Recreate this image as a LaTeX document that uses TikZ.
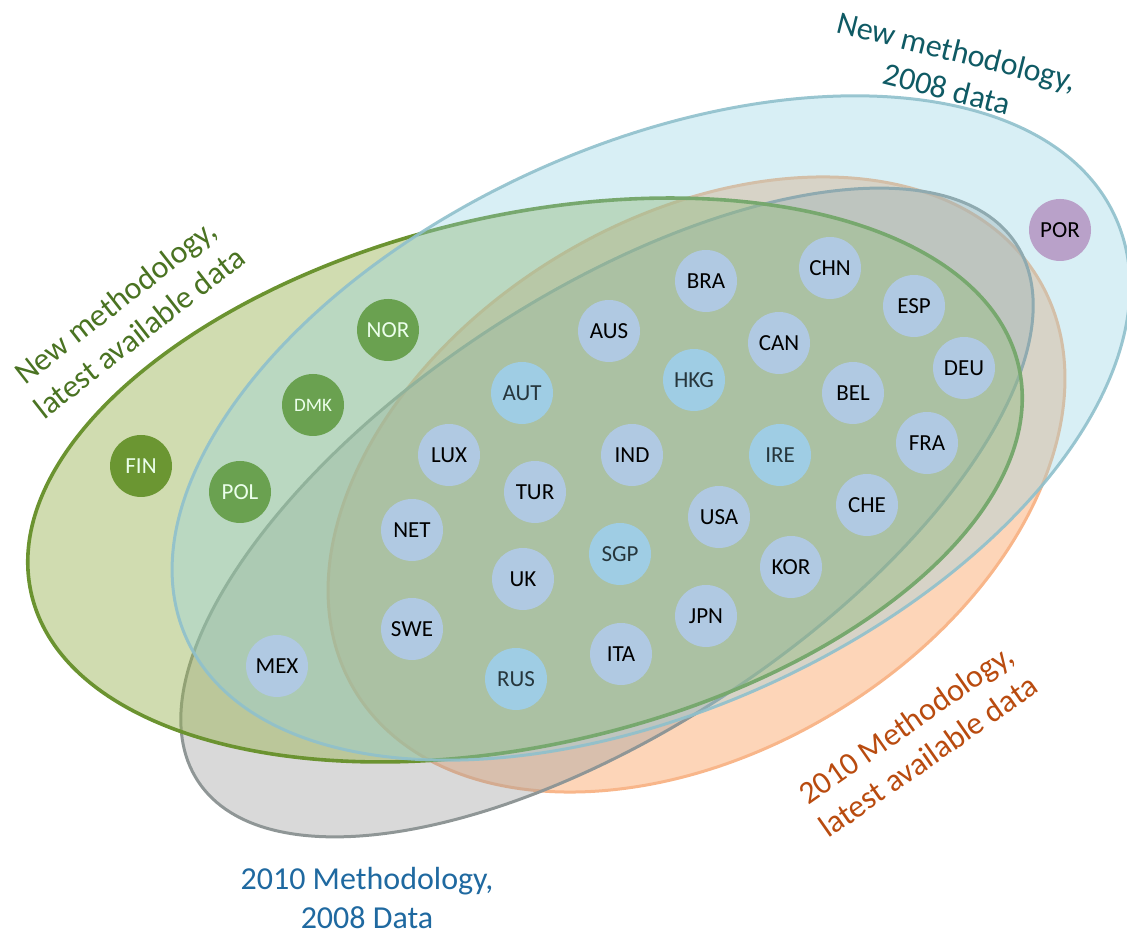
\documentclass[tikz,border=0pt]{standalone}
\usepackage{fontspec}
\setmainfont{Carlito}
\definecolor{orangefill}{HTML}{F98734}
\definecolor{grayfill}{HTML}{9B9B9B}
\definecolor{greenfill}{HTML}{97B14F}
\definecolor{bluefill}{HTML}{90D1E2}
\definecolor{orangeline}{HTML}{F8B68A}
\definecolor{grayline}{HTML}{8F9696}
\definecolor{greenline}{HTML}{6B9330}
\definecolor{blueline}{HTML}{8FC0CC}
\definecolor{ctryblue}{HTML}{B0C9E2}
\definecolor{ctrycyan}{HTML}{9FCDE4}
\definecolor{ctrytext}{HTML}{26363C}
\definecolor{ctrygreen}{HTML}{6AA150}
\definecolor{ctryfin}{HTML}{6B9632}
\definecolor{ctrypor}{HTML}{B9A1C9}
\definecolor{lblgreen}{HTML}{4A7322}
\definecolor{lblteal}{HTML}{0F5A64}
\definecolor{lblblue}{HTML}{1F69A0}
\definecolor{lblorange}{HTML}{B94B0F}
\tikzset{
  ctry/.style={circle,minimum size=31pt,inner sep=0pt,font=\fontsize{11.5}{13}\selectfont,text=black},
  oldset/.style={ctry,fill=ctryblue},
  newset/.style={ctry,fill=ctrycyan,text=ctrytext},
  greenset/.style={ctry,fill=ctrygreen,text=white!92!green},
  setlabel/.style={align=center,font=\fontsize{16}{19.5}\selectfont},
}

\begin{document}
\begin{tikzpicture}[x=0.5pt,y=0.5pt]
\useasboundingbox (0,0) rectangle (1127,935);
\filldraw[fill=orangefill,fill opacity=0.35,draw=orangeline,line width=1.5pt,rotate around={31.1:(696.5,450.5)}] (696.5,450.5) ellipse [x radius=199.5pt,y radius=133.3pt];
\filldraw[fill=grayfill,fill opacity=0.38,draw=grayline,line width=1.5pt,rotate around={33.3:(607,422.5)}] (607,422.5) ellipse [x radius=244.7pt,y radius=108.7pt];
\filldraw[fill=greenfill,fill opacity=0.45,draw=greenline,line width=1.8pt,rotate around={13:(525,455)}] (525,455) ellipse [x radius=253.3pt,y radius=132.3pt];
\filldraw[fill=bluefill,fill opacity=0.35,draw=blueline,line width=1.5pt,draw opacity=0.9,rotate around={24.4:(651,507)}] (651,507) ellipse [x radius=255pt,y radius=141pt];

\node[setlabel,text=lblgreen,rotate=38] (newlatest) at (127,618) {New methodology,\\latest available data};
\node[setlabel,text=lblteal,rotate=-14] (new2008) at (952,865) {New methodology,\\2008 data};
\node[setlabel,text=lblblue] (old2008) at (367,37) {2010 Methodology,\\2008 Data};
\node[setlabel,text=lblorange,rotate=35] (oldlatest) at (917,195) {2010 Methodology,\\latest available data};

\node[ctry,fill=ctrypor] (POR) at (1060,705) {POR};
\node[oldset] (BRA) at (706,654) {BRA};
\node[oldset] (CHN) at (830,667) {CHN};
\node[oldset] (ESP) at (914,629) {ESP};
\node[oldset] (AUS) at (609,604) {AUS};
\node[oldset] (CAN) at (779,592) {CAN};
\node[oldset] (DEU) at (964,567) {DEU};
\node[greenset] (NOR) at (388,605) {NOR};
\node[newset] (HKG) at (694,555) {HKG};
\node[newset] (AUT) at (522,542) {AUT};
\node[oldset] (BEL) at (853,542) {BEL};
\node[greenset,font=\fontsize{9.5}{11}\selectfont] (DMK) at (313,530) {DMK};
\node[greenset,fill=ctryfin] (FIN) at (141,469) {FIN};
\node[oldset] (LUX) at (449,480) {LUX};
\node[oldset] (IND) at (632,480) {IND};
\node[newset] (IRE) at (780,480) {IRE};
\node[oldset] (FRA) at (927,492) {FRA};
\node[greenset] (POL) at (240,443) {POL};
\node[oldset] (TUR) at (535,443) {TUR};
\node[oldset] (USA) at (719,418) {USA};
\node[oldset] (CHE) at (867,430) {CHE};
\node[oldset] (NET) at (412,405) {NET};
\node[newset] (SGP) at (620,381) {SGP};
\node[oldset] (KOR) at (791,368) {KOR};
\node[oldset] (UK) at (523,356) {UK};
\node[oldset] (SWE) at (412,306) {SWE};
\node[oldset] (JPN) at (706,319) {JPN};
\node[oldset] (MEX) at (277,269) {MEX};
\node[oldset] (ITA) at (621,281) {ITA};
\node[newset] (RUS) at (516,256) {RUS};
\end{tikzpicture}
\end{document}
